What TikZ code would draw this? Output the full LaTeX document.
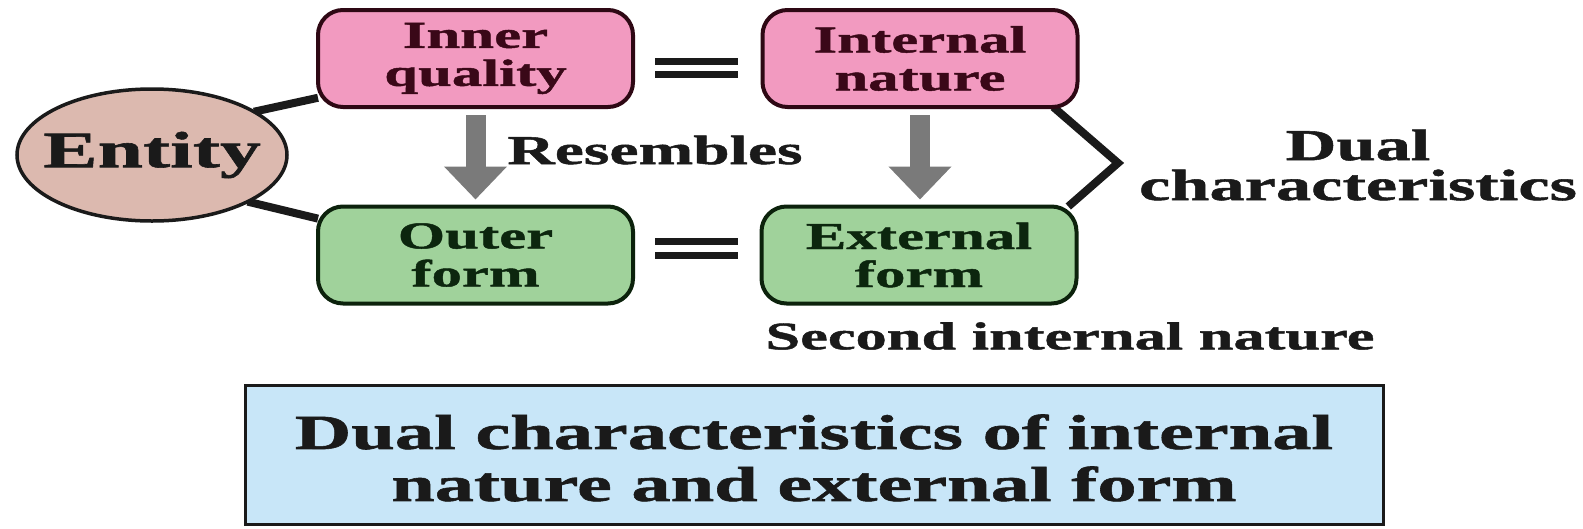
\documentclass[tikz,border=0pt]{standalone}
\usepackage{fontspec}
\setmainfont{Liberation Serif}[FakeStretch=1.6,FakeBold=1.2]
\usetikzlibrary{shapes.geometric,arrows.meta,calc}
\pgfdeclarelayer{bg}
\pgfsetlayers{bg,main}
\definecolor{pinkfill}{HTML}{F29AC0}
\definecolor{pinkline}{HTML}{2E0814}
\definecolor{pinktext}{HTML}{3A0818}
\definecolor{greenfill}{HTML}{A0D29B}
\definecolor{greenline}{HTML}{0C220C}
\definecolor{greentext}{HTML}{0C260E}
\definecolor{entfill}{HTML}{DCB9AF}
\definecolor{bluefill}{HTML}{C8E6F8}
\definecolor{arrowgray}{HTML}{7A7A7A}
\definecolor{ink}{HTML}{1A1A1A}
\begin{document}
\begin{tikzpicture}[x=1pt,y=-1pt,
  basebox/.style={rectangle, rounded corners=25pt, minimum width=315pt, minimum height=97pt,
    inner sep=0pt, outer sep=0pt, line width=4pt, align=center,
    font=\fontsize{38}{38}\selectfont\bfseries},
  pinkbox/.style={basebox, draw=pinkline, fill=pinkfill, text=pinktext},
  greenbox/.style={basebox, draw=greenline, fill=greenfill, text=greentext},
  ent/.style={ellipse, draw=ink, line width=3.5pt, fill=entfill, minimum width=270pt,
    minimum height=132pt, inner xsep=-50pt, inner ysep=0pt, outer sep=0pt, text=ink,
    font=\fontsize{51}{51}\selectfont\bfseries},
  lbl/.style={text=ink, inner sep=0pt, align=center},
  bluebox/.style={rectangle, draw=ink, line width=3pt, fill=bluefill, minimum width=1138pt,
    minimum height=139pt, inner sep=0pt, align=center, text=ink,
    font=\fontsize{49}{52}\selectfont\bfseries},
  conn/.style={draw=ink, line width=8pt},
  bracketline/.style={draw=ink, line width=8pt, line join=miter},
  grayarrow/.style={draw=arrowgray, line width=20pt, shorten <=8pt, shorten >=7pt,
    -{Triangle[width=61pt,length=33pt]}},
  eqbar/.style={draw=ink, line width=7pt}
]
\useasboundingbox (0,0) rectangle (1583,528);

\node[ent] (entity) at (152,155) {Entity};
\node[pinkbox] (iq) at (475.5,58.5) {Inner\\quality};
\node[pinkbox] (in) at (920,58.5) {Internal\\nature};
\node[greenbox] (of) at (475.5,255) {Outer\\form};
\node[greenbox] (ef) at (919,255) {External\\form};
\node[lbl, font=\fontsize{41}{41}\selectfont\bfseries] (res) at (655,150) {Resembles};
\node[lbl, font=\fontsize{44}{40}\selectfont\bfseries] (dual) at (1358,165) {Dual\\characteristics};
\node[lbl, font=\fontsize{39}{39}\selectfont\bfseries] (sec) at (1070,336) {Second internal nature};
\node[bluebox] (sum) at (814,454.5) {};
\node[lbl, font=\fontsize{49}{52}\selectfont\bfseries] (sumtext) at (814,458) {Dual characteristics of internal\\nature and external form};

\coordinate (apex) at (1118,163);

\begin{pgfonlayer}{bg}
  \draw[conn] (entity.23) -- (iq.194);
  \draw[conn] (entity.-26) -- (of.167.5);
  \draw[bracketline] (in.-20.5) -- (apex) -- (ef.18.2);
\end{pgfonlayer}

\draw[grayarrow] (iq.south) -- (of.north);
\draw[grayarrow] (in.south) -- (in.south |- of.north);

\draw[eqbar] (655,61) -- (738,61);
\draw[eqbar] (655,74) -- (738,74);
\draw[eqbar] (655,241) -- (738,241);
\draw[eqbar] (655,255) -- (738,255);
\end{tikzpicture}
\end{document}
